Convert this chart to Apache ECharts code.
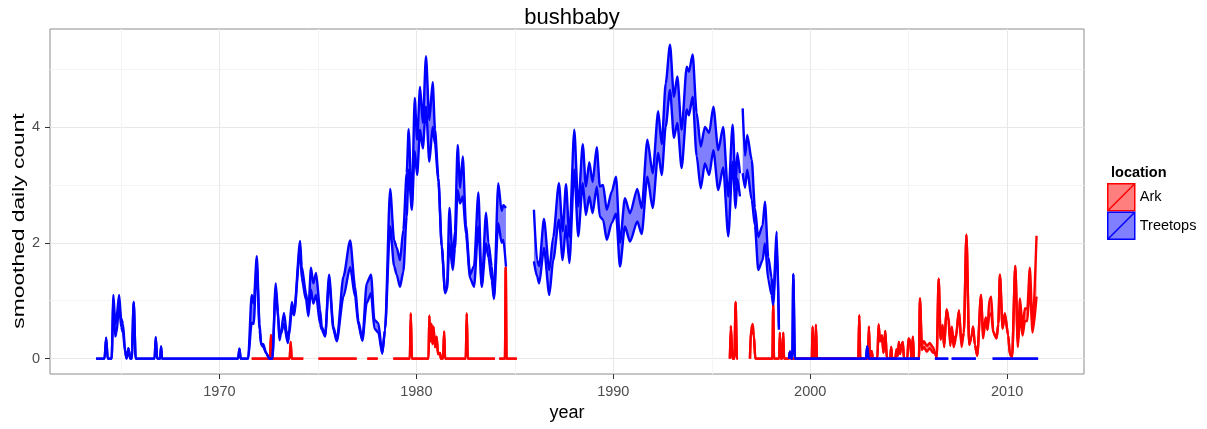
<!DOCTYPE html>
<html>
<head>
<meta charset="utf-8">
<script src="https://cdn.jsdelivr.net/npm/echarts@6/dist/echarts.min.js"></script>
<style>
  html, body { margin: 0; padding: 0; background: #ffffff; }
  #chart { width: 1207px; height: 429px; }
</style>
</head>
<body>
<div id="chart"></div>
<script>
// Labels and ticks
const chartTitle = 'bushbaby';
const xAxisTitle = 'year';
const yAxisTitle = 'smoothed daily count';
const legendTitle = 'location';
const locations = ['Ark', 'Treetops'];
const xTicks = [1970, 1980, 1990, 2000, 2010];
const xMinorTicks = [1965, 1975, 1985, 1995, 2005];
const yTicks = [0, 2, 4];
const yMinorTicks = [1, 3, 5];

// Smoothed daily counts: [year, lower bound, upper bound]; null marks a break in the record
const arkBand = [
  [1971.64,0,0],[1972.57,0,0],[1972.62,0.41,0.41],[1972.67,0,0],[1973.57,0,0],[1973.62,0.29,0.29],[1973.67,0,0],[1974.26,0,0],
  [1974.6,null,null],
  [1975.03,0,0],[1976.97,0,0],
  [1977.2,null,null],
  [1977.51,0,0],[1978.04,0,0],
  [1978.4,null,null],
  [1978.83,0,0],[1979.67,0,0],[1979.72,0.78,0.78],[1979.77,0,0],[1980.62,0,0],[1980.66,0.74,0.74],[1980.72,0.3,0.3],
  [1980.77,0.6,0.6],[1980.82,0.25,0.25],[1980.87,0.55,0.55],[1980.95,0.2,0.2],[1981.03,0.38,0.38],[1981.10,0.08,0.08],
  [1981.20,0.1,0.1],[1981.25,0,0],[1981.36,0,0],[1981.41,0.47,0.47],[1981.46,0,0],[1982.51,0,0],[1982.56,0.78,0.78],
  [1982.61,0,0],[1983.99,0,0],
  [1984.1,null,null],
  [1984.21,0,0],[1984.50,0,0],[1984.54,1.58,1.58],[1984.58,0,0],[1985.10,0,0],
  [1990.0,null,null],
  [1995.92,0,0],[1995.97,0.56,0.56],[1996.05,0,0],[1996.15,0,0],[1996.21,0.98,0.98],[1996.28,0,0],[1996.33,0,0],
  [1996.6,null,null],
  [1996.94,0,0],[1996.99,0.5,0.5],[1997.08,0.45,0.6],[1997.14,0.4,0.4],[1997.21,0,0],[1998.08,0,0],[1998.12,0.94,0.94],
  [1998.16,0,0],[1998.42,0,0],[1998.46,0.45,0.45],[1998.50,0,0],[1998.58,0,0],[1998.63,0.45,0.45],[1998.67,0,0],
  [1998.92,0,0],[1998.97,0.12,0.12],[1999.02,0,0],[2000.08,0,0],[2000.12,0.55,0.55],[2000.17,0,0],[2000.24,0,0],
  [2000.29,0.58,0.58],[2000.34,0,0],[2002.44,0,0],[2002.49,0.75,0.75],[2002.54,0,0],[2002.93,0,0],[2002.98,0.55,0.55],
  [2003.03,0,0],[2003.12,0.13,0.13],[2003.18,0,0],[2003.41,0,0],[2003.47,0.59,0.59],[2003.54,0.3,0.3],[2003.64,0.4,0.4],
  [2003.72,0.1,0.1],[2003.81,0.48,0.48],[2003.89,0,0],[2004.06,0,0],[2004.11,0.2,0.2],[2004.16,0,0],[2004.32,0,0],
  [2004.38,0.16,0.16],[2004.45,0.05,0.05],[2004.50,0.29,0.29],[2004.56,0.08,0.08],[2004.62,0.22,0.22],[2004.70,0.29,0.29],
  [2004.76,0,0],[2004.93,0,0],[2004.99,0.35,0.35],[2005.08,0.3,0.3],[2005.14,0,0],[2005.21,0.38,0.38],[2005.27,0,0],
  [2005.52,0,0],[2005.57,1.04,1.04],[2005.67,0.15,0.24],[2005.77,0.2,0.3],[2005.92,0.12,0.22],[2006.07,0.18,0.27],
  [2006.23,0.1,0.2],[2006.33,0.1,0.1],[2006.42,0.02,0.02],[2006.52,1.38,1.38],[2006.62,0.33,0.33],[2006.72,0.58,0.58],
  [2006.80,0.2,0.2],[2006.92,0.85,0.85],[2007.02,0.65,0.73],[2007.11,0.22,0.3],[2007.19,0.5,0.55],[2007.28,0.2,0.3],
  [2007.40,0.35,0.4],[2007.55,0.83,0.83],[2007.68,0.2,0.27],[2007.80,0.45,0.45],[2007.93,2.14,2.14],[2008.07,0.24,0.24],
  [2008.19,0.38,0.38],[2008.27,0.55,0.55],[2008.36,0.24,0.24],[2008.48,0.05,0.05],[2008.67,1.1,1.1],[2008.78,0.35,0.4],
  [2008.91,0.71,0.71],[2009.00,0.5,0.5],[2009.09,0.75,1.01],[2009.19,0.78,1.07],[2009.29,0.45,0.47],[2009.46,0.35,0.35],
  [2009.55,0.6,0.6],[2009.63,1.45,1.45],[2009.77,0.52,0.52],[2009.88,0.78,0.78],[2010.05,0.4,0.4],[2010.14,0.07,0.07],
  [2010.25,0.03,0.03],[2010.41,1.6,1.6],[2010.54,0.2,0.3],[2010.65,0.75,1.04],[2010.78,0.4,0.55],[2010.90,0.65,0.87],
  [2011.02,0.65,0.85],[2011.15,1.25,1.57],[2011.29,0.45,0.55],[2011.49,1.07,2.12]
];

const treetopsBand = [
  [1963.74,0,0],[1964.17,0,0],[1964.25,0.36,0.36],[1964.33,0,0],[1964.53,0,0],[1964.62,1.0,1.1],[1964.71,0.38,0.6],
  [1964.78,0.45,0.72],[1964.91,0.95,1.1],[1965.01,0.55,0.7],[1965.11,0.45,0.6],[1965.21,0.12,0.14],[1965.29,0,0],
  [1965.38,0.18,0.18],[1965.47,0,0],[1965.55,0,0],[1965.65,0.98,0.98],[1965.75,0,0],[1966.71,0,0],[1966.77,0.37,0.37],
  [1966.84,0,0],[1966.99,0,0],[1967.04,0.21,0.21],[1967.09,0,0],[1970.95,0,0],[1971.02,0.17,0.17],[1971.08,0,0],
  [1971.46,0,0],[1971.64,0.62,1.1],[1971.74,0.6,0.95],[1971.90,1.62,1.77],[1972.04,0.5,0.6],[1972.12,0.24,0.26],
  [1972.23,0.2,0.25],[1972.37,0.1,0.1],[1972.54,0,0],[1972.69,0,0],[1972.86,1.2,1.3],[1972.98,0.7,0.8],[1973.05,0.32,0.36],
  [1973.12,0.42,0.45],[1973.28,0.6,0.79],[1973.47,0.27,0.3],[1973.54,0.4,0.5],[1973.68,0.85,0.98],[1973.79,0.75,0.79],
  [1974.10,1.9,2.03],[1974.18,1.39,1.59],[1974.40,1.01,1.13],[1974.52,0.73,0.85],[1974.65,1.19,1.57],[1974.77,0.95,1.3],
  [1974.91,1.1,1.48],[1975.11,0.6,0.85],[1975.20,0.5,0.55],[1975.37,0.38,0.4],[1975.57,1.35,1.45],[1975.79,0.5,0.55],
  [1975.96,0.3,0.32],[1976.30,1.07,1.42],[1976.64,1.58,2.04],[1976.89,1.07,1.24],[1977.06,0.58,0.65],[1977.26,0.31,0.33],
  [1977.48,0.96,1.3],[1977.70,1.13,1.45],[1977.87,0.52,0.67],[1978.07,0.45,0.61],[1978.27,0.09,0.09],[1978.41,0.5,0.5],
  [1978.67,2.28,2.93],[1978.87,1.6,2.05],[1979.00,1.45,1.92],[1979.17,1.24,1.7],[1979.34,1.5,2.22],[1979.51,2.45,3.2],
  [1979.61,3.26,3.96],[1979.77,2.57,2.65],[1979.92,3.58,4.5],[1980.04,3.17,3.78],[1980.19,3.95,4.69],[1980.33,3.63,4.07],
  [1980.49,4.35,5.22],[1980.66,3.4,4.12],[1980.83,4.0,4.77],[1980.95,3.7,3.95],[1981.12,3.05,3.12],[1981.29,1.93,1.95],
  [1981.46,1.13,1.15],[1981.56,1.2,1.25],[1981.68,1.99,2.6],[1981.85,1.53,1.7],[1981.96,1.9,2.2],[1982.10,2.91,3.69],
  [1982.22,2.68,2.95],[1982.36,2.8,3.49],[1982.52,2.15,2.3],[1982.73,1.39,1.45],[1982.93,1.24,1.6],[1983.15,2.28,2.87],
  [1983.32,1.24,1.26],[1983.54,1.99,2.52],[1983.66,1.75,2.0],[1983.83,1.35,1.6],[1983.94,1.03,1.05],[1984.16,2.34,3.03],
  [1984.33,2.0,2.55],[1984.42,2.05,2.65],[1984.55,1.59,2.6],
  [1985.2,null,null],
  [1985.97,1.68,2.57],[1986.13,1.42,1.7],[1986.24,1.3,1.6],[1986.48,1.91,2.41],[1986.75,1.1,1.53],[1986.95,1.7,2.1],
  [1987.24,2.4,3.03],[1987.43,1.7,2.2],[1987.60,2.3,3.01],[1987.77,1.65,2.1],[1988.02,3.26,3.95],[1988.22,2.11,2.63],
  [1988.45,3.03,3.7],[1988.61,2.48,2.97],[1988.78,2.8,3.39],[1988.95,2.51,3.05],[1989.16,2.97,3.65],[1989.32,2.45,2.97],
  [1989.48,2.4,3.0],[1989.67,2.05,2.57],[1989.92,2.34,2.88],[1990.14,2.5,3.14],[1990.34,1.59,2.0],[1990.59,2.28,2.77],
  [1990.85,2.02,2.51],[1991.22,2.37,2.93],[1991.44,2.15,2.6],[1991.73,3.14,3.78],[1992.00,2.6,3.2],[1992.28,3.55,4.27],
  [1992.46,3.17,3.7],[1992.66,4.0,4.75],[1992.88,4.64,5.42],[1993.08,3.81,4.52],[1993.25,4.07,4.87],[1993.47,3.29,3.95],
  [1993.73,4.3,5.04],[1993.84,4.2,4.95],[1994.03,4.52,5.25],[1994.23,3.5,4.25],[1994.44,2.94,3.66],[1994.65,3.37,4.0],
  [1994.87,3.17,3.9],[1995.08,3.6,4.35],[1995.33,2.91,3.6],[1995.58,3.3,4.0],[1995.84,2.11,2.8],[1996.06,3.4,4.04],
  [1996.21,2.6,3.0],[1996.30,3.1,3.55],[1996.43,2.8,3.2],
  [1996.50,null,null],
  [1996.57,3.2,4.32],[1996.69,2.95,3.5],[1996.80,3.26,3.86],[1997.03,2.74,3.43],[1997.19,2.3,2.6],[1997.36,1.53,2.1],
  [1997.58,1.7,2.3],[1997.70,1.99,2.71],[1997.87,1.36,1.75],[1998.04,1.1,1.4],[1998.12,0.93,1.05],[1998.30,2.0,2.19],
  [1998.41,0.5,0.55],
  [1998.7,null,null],
  [1998.92,0,0],[1998.97,0.12,0.12],[1999.05,0,0],[1999.09,0,0],[1999.14,1.46,1.46],[1999.22,0,0],[2002.83,0,0],
  [2002.89,0.21,0.21],[2002.96,0,0],[2005.57,0,0],
  [2005.9,null,null],
  [2006.33,0,0],[2007.01,0,0],
  [2007.1,null,null],
  [2007.18,0,0],[2008.41,0,0],
  [2008.8,null,null],
  [2009.26,0,0],[2011.57,0,0]
];

const fontFamily = "'Liberation Sans', Arial, Helvetica, sans-serif";
const palette = {
  Ark: { line: '#ff0000', fill: 'rgba(255,0,0,0.5)' },
  Treetops: { line: '#0000ff', fill: 'rgba(0,0,255,0.5)' }
};

// A ribbon: the lower edge as a plain line, the band width stacked on it with a filled area.
// Rows are given as [value, year] so the stack sums the value dimension.
function ribbon(name, rows) {
  const c = palette[name];
  const lower = rows.map(r => [r[1] == null ? '-' : r[1], r[0]]);
  const width = rows.map(r => [r[1] == null ? '-' : +(r[2] - r[1]).toFixed(3), r[0]]);
  const common = {
    name: name,
    type: 'line',
    stack: name,
    xAxisIndex: 0,
    yAxisIndex: 0,
    encode: { x: 1, y: 0 },
    showSymbol: false,
    symbol: 'none',
    connectNulls: false,
    smooth: 0.25,
    smoothMonotone: 'x',
    silent: true,
    animation: false,
    lineStyle: { color: c.line, width: 2.4 },
    itemStyle: { color: c.line }
  };
  return [
    Object.assign({}, common, { data: lower }),
    Object.assign({}, common, { data: width, areaStyle: { color: c.fill, opacity: 1 } })
  ];
}

const xMin = 1961.4, xMax = 2013.9;
const yMin = -0.265, yMax = 5.69;

const legendIcon = 'path://M0,0L27,0L27,27L0,27ZM0,27L27,0';
const plainNumber = v => String(v);

const option = {
  backgroundColor: '#ffffff',
  animation: false,
  title: [
    { text: chartTitle, left: 567, top: 2, textAlign: 'center',
      textStyle: { fontFamily, fontSize: 22, fontWeight: 'normal', color: '#000' } },
    { text: legendTitle, left: 1106, top: 160,
      textStyle: { fontFamily, fontSize: 14.5, fontWeight: 'bold', color: '#000' } }
  ],
  graphic: [
    {
      type: 'text',
      x: 19, y: 221,
      rotation: Math.PI / 2,
      scaleX: 1.34,
      silent: true,
      style: {
        text: yAxisTitle,
        font: "17px 'Liberation Sans', Arial, sans-serif",
        fill: '#000',
        align: 'center',
        verticalAlign: 'middle'
      }
    }
  ],
  legend: {
    orient: 'vertical',
    left: 1107, top: 183,
    padding: 0,
    itemWidth: 27, itemHeight: 27, itemGap: 0,
    selectedMode: false,
    textStyle: { fontFamily, fontSize: 14.5, color: '#000' },
    data: locations.map(n => ({
      name: n,
      icon: legendIcon,
      itemStyle: { color: palette[n].fill, borderColor: palette[n].line, borderWidth: 1.5 }
    }))
  },
  grid: {
    left: 50, right: 123, top: 29, bottom: 55,
    show: true, borderColor: '#8c8c8c', borderWidth: 1, backgroundColor: 'transparent'
  },
  xAxis: [
    {
      type: 'value', min: xMin, max: xMax, position: 'bottom',
      name: xAxisTitle, nameLocation: 'middle', nameGap: 28,
      nameTextStyle: { fontFamily, fontSize: 18, color: '#000' },
      axisLine: { show: false, onZero: false },
      axisTick: { show: true, length: 5, customValues: xTicks, lineStyle: { color: '#333', width: 1 } },
      axisLabel: { customValues: xTicks, formatter: plainNumber, margin: 10, fontFamily, fontSize: 14.5, color: '#4d4d4d' },
      splitLine: { show: true, lineStyle: { color: '#e8e8e8', width: 1 } }
    },
    {
      type: 'value', min: xMin, max: xMax, position: 'bottom',
      axisLine: { show: false, onZero: false },
      axisTick: { show: false, customValues: xMinorTicks },
      axisLabel: { show: false, customValues: xMinorTicks },
      splitLine: { show: true, lineStyle: { color: '#f4f4f4', width: 1 } }
    }
  ],
  yAxis: [
    {
      type: 'value', min: yMin, max: yMax, position: 'left',
      axisLine: { show: false, onZero: false },
      axisTick: { show: true, length: 5, customValues: yTicks, lineStyle: { color: '#333', width: 1 } },
      axisLabel: { customValues: yTicks, formatter: plainNumber, margin: 10, fontFamily, fontSize: 14.5, color: '#4d4d4d' },
      splitLine: { show: true, lineStyle: { color: '#e8e8e8', width: 1 } }
    },
    {
      type: 'value', min: yMin, max: yMax, position: 'left',
      axisLine: { show: false, onZero: false },
      axisTick: { show: false, customValues: yMinorTicks },
      axisLabel: { show: false, customValues: yMinorTicks },
      splitLine: { show: true, lineStyle: { color: '#f4f4f4', width: 1 } }
    }
  ],
  series: [].concat(ribbon('Ark', arkBand), ribbon('Treetops', treetopsBand))
};

const chart = echarts.init(document.getElementById('chart'), null, { renderer: 'canvas' });
chart.setOption(option);
</script>
</body>
</html>
